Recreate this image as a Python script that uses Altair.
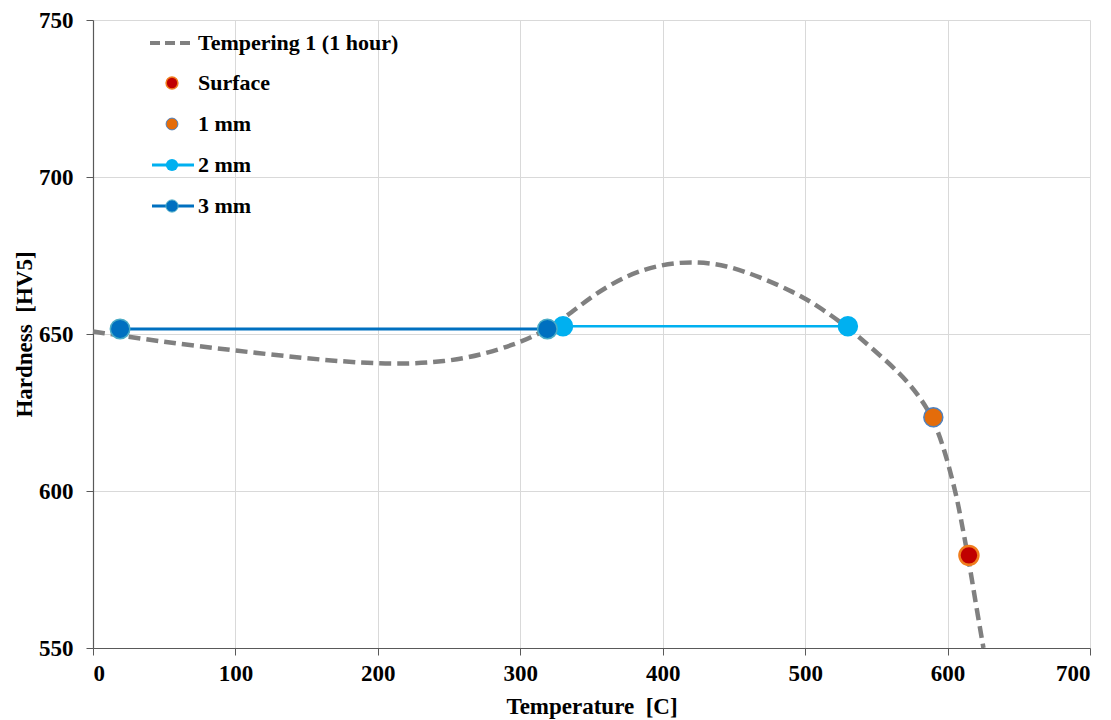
import altair as alt
import pandas as pd

# Tempering curve
curve_temp = [0, 47, 100, 164, 213, 248, 272, 295, 312, 331, 351, 375, 398, 421, 445,
              468, 492, 508, 529, 545.5, 566.6, 580.6, 590, 598, 606, 609, 614, 617,
              621, 625.2]
curve_hard = [650.8, 647.6, 644.7, 641.5, 640.2, 641.2, 643.3, 646.5, 649.7, 655.0,
              662.4, 668.8, 672.1, 673.2, 671.9, 668.2, 663.4, 659.2, 652.5, 646.0,
              637.6, 630.0, 623.0, 613.0, 599.0, 592.0, 580.0, 572.0, 561.0, 550.0]

# Measured points
surface_temp = [615]
surface_hard = [579.5]
mm1_temp = [590]
mm1_hard = [623.5]
mm2_temp = [330, 530]
mm2_hard = [652.5, 652.5]
mm3_temp = [19, 319]
mm3_hard = [651.6, 651.6]

legend_labels = ["Tempering 1 (1 hour)", "Surface", "1 mm", "2 mm", "3 mm"]

FONT = "Liberation Serif"
GRAY = "#808080"
C3 = "#0070C0"
C2 = "#00B0F0"
C1 = "#E46C0A"
C1S = "#4F81BD"
CS = "#C00000"
CSS = "#F07D1E"

xs = alt.Scale(domain=[0, 700], nice=False, zero=False)
ys = alt.Scale(domain=[550, 750], nice=False, zero=False)

xax = alt.Axis(values=list(range(0, 701, 100)), title="Temperature\u00a0 [C]", grid=True)
yax = alt.Axis(values=list(range(550, 751, 50)), title="Hardness\u00a0 [HV5]", grid=True)

curve_df = pd.DataFrame({"t": curve_temp, "h": curve_hard})
base_x = alt.X("t:Q", scale=xs, axis=xax)
base_y = alt.Y("h:Q", scale=ys, axis=yax)

curve = alt.Chart(curve_df).mark_line(
    color=GRAY, strokeWidth=4.5, strokeDash=[12, 6], interpolate="basis"
).encode(x=base_x, y=base_y)

df3 = pd.DataFrame({"t": mm3_temp, "h": mm3_hard})
df2 = pd.DataFrame({"t": mm2_temp, "h": mm2_hard})
df1 = pd.DataFrame({"t": mm1_temp, "h": mm1_hard})
dfs = pd.DataFrame({"t": surface_temp, "h": surface_hard})

line2 = alt.Chart(df2).mark_line(color=C2, strokeWidth=2.5).encode(x=base_x, y=base_y)
pts2 = alt.Chart(df2).mark_point(filled=True, fill=C2, color=C2, size=420, opacity=1,
                                 strokeWidth=1).encode(x=base_x, y=base_y)
line3 = alt.Chart(df3).mark_line(color=C3, strokeWidth=3).encode(x=base_x, y=base_y)
pts3 = alt.Chart(df3).mark_point(filled=True, fill=C3, stroke="#4BACC6", size=380,
                                 opacity=1, strokeWidth=1.5).encode(x=base_x, y=base_y)
pts1 = alt.Chart(df1).mark_point(filled=True, fill=C1, stroke=C1S, size=360,
                                 opacity=1, strokeWidth=1.5).encode(x=base_x, y=base_y)
ptss = alt.Chart(dfs).mark_point(filled=True, fill=CS, stroke=CSS, size=360,
                                 opacity=1, strokeWidth=2.5).encode(x=base_x, y=base_y)

# Manual legend (inside plot, top-left)
leg_rows_y = [23, 63, 104, 145, 186]
sym_x = 79
txt_x = 105
one = pd.DataFrame({"a": [0]})
legend_layers = []
for i, lab in enumerate(legend_labels):
    yy = leg_rows_y[i]
    legend_layers.append(
        alt.Chart(one).mark_text(align="left", baseline="middle", font=FONT,
                                 fontSize=22, fontWeight="bold", color="black")
        .encode(x=alt.value(txt_x), y=alt.value(yy), text=alt.value(lab))
    )
legend_layers.append(
    alt.Chart(one).mark_rule(color=GRAY, strokeWidth=4, strokeDash=[10, 5])
    .encode(x=alt.value(57), x2=alt.value(101), y=alt.value(leg_rows_y[0]))
)
legend_layers.append(
    alt.Chart(one).mark_point(filled=True, fill=CS, stroke=CSS, size=140, opacity=1, strokeWidth=1.5)
    .encode(x=alt.value(sym_x), y=alt.value(leg_rows_y[1]))
)
legend_layers.append(
    alt.Chart(one).mark_point(filled=True, fill=C1, stroke=C1S, size=140, opacity=1, strokeWidth=1)
    .encode(x=alt.value(sym_x), y=alt.value(leg_rows_y[2]))
)
legend_layers.append(
    alt.Chart(one).mark_rule(color=C2, strokeWidth=3)
    .encode(x=alt.value(59), x2=alt.value(101), y=alt.value(leg_rows_y[3]))
)
legend_layers.append(
    alt.Chart(one).mark_point(filled=True, fill=C2, color=C2, size=150, opacity=1)
    .encode(x=alt.value(sym_x), y=alt.value(leg_rows_y[3]))
)
legend_layers.append(
    alt.Chart(one).mark_rule(color=C3, strokeWidth=3)
    .encode(x=alt.value(59), x2=alt.value(101), y=alt.value(leg_rows_y[4]))
)
legend_layers.append(
    alt.Chart(one).mark_point(filled=True, fill=C3, stroke="#4BACC6", size=150, opacity=1, strokeWidth=1)
    .encode(x=alt.value(sym_x), y=alt.value(leg_rows_y[4]))
)

chart = alt.layer(curve, line3, line2, pts2, pts3, pts1, ptss, *legend_layers).properties(
    width=997, height=628,
    autosize=alt.AutoSizeParams(type="none"),
    padding={"left": 85, "top": 12, "right": 13, "bottom": 72},
).configure_view(stroke=None).configure_axis(
    labelFont=FONT, titleFont=FONT, labelFontSize=23, titleFontSize=23,
    labelFontWeight="bold", titleFontWeight="bold", labelColor="black", titleColor="black",
    domainColor="#595959", tickColor="#595959", gridColor="#D9D9D9", tickSize=7,
    domainWidth=1.2,
).configure_axisX(labelPadding=7, titlePadding=10).configure_axisY(
    labelPadding=13, titlePadding=2
)

chart.save("out.html", embed_options={"renderer": "svg", "actions": False})
